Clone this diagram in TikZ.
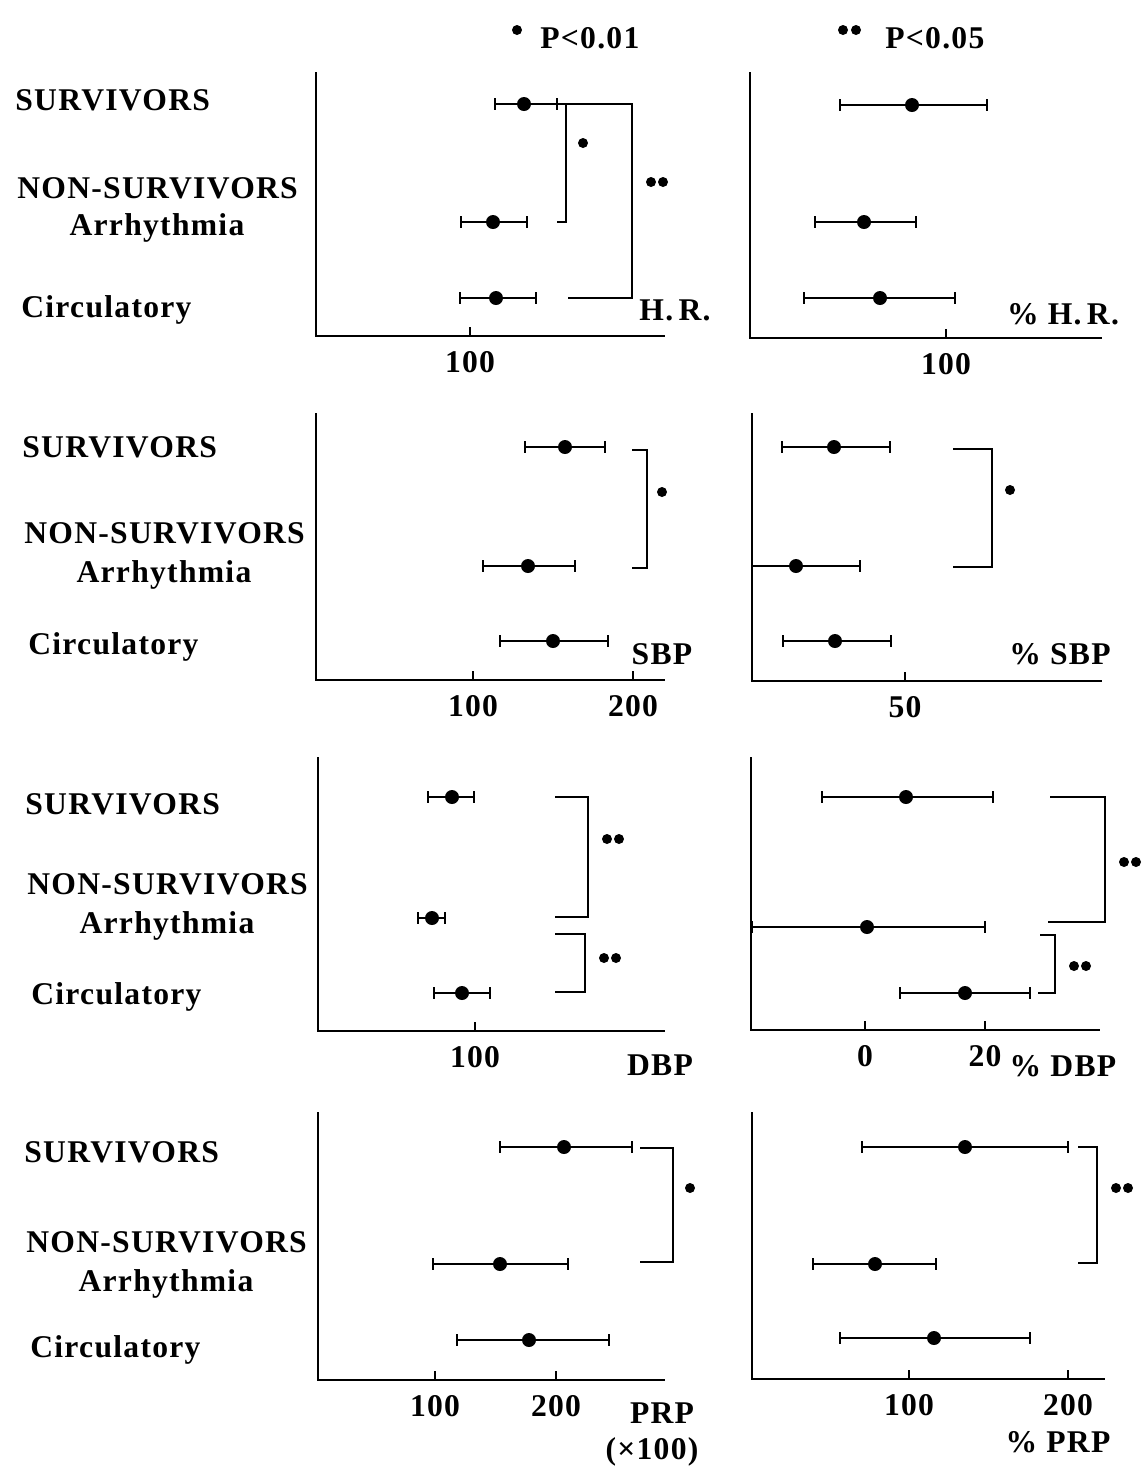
\documentclass[tikz,border=0pt]{standalone}
\usepackage{fontspec}
\setmainfont{Liberation Serif}[LetterSpace=4]
\begin{document}
\begin{tikzpicture}[x=0.02cm,y=-0.02cm,
  axis/.style={line width=1.4pt},
  bar/.style={line width=1.1pt},
  brk/.style={line width=1.3pt},
  txt/.style={font=\fontsize{18}{20}\selectfont\bfseries,inner sep=0pt}]
\useasboundingbox (0,0) rectangle (1142,1472);

% legend
\fill (517,30) circle[radius=0.1cm];
\node[txt,anchor=west] (p1) at (540,38) {P<0.01};
\fill (843,30) circle[radius=0.1cm];
\fill (856,30) circle[radius=0.1cm];
\node[txt,anchor=west] (p2) at (885,38) {P<0.05};

% row labels
\foreach \i/\dx/\ys/\yn/\ya/\yc in {1/15/100/188/228/310, 2/22/447/533/575/647,
    3/25/804/884/926/997, 4/24/1152/1242/1284/1350}{
  \node[txt,anchor=west] (sur\i) at (\dx,\ys) {SURVIVORS};
  \node[txt,anchor=west] (non\i) at (\dx+2,\yn) {NON-SURVIVORS};
  \node[txt] (arr\i) at (\dx+142,\ya) {Arrhythmia};
  \node[txt,anchor=west] (cir\i) at (\dx+6,\yc) {Circulatory};
}

% axes: left panels and right panels
\foreach \xa/\ya/\yb/\xe in {316/72/336/665, 750/72/338/1102,
    316/413/680/665, 752/413/681/1102,
    318/757/1031/665, 751/757/1030/1100,
    318/1112/1380/665, 752/1112/1379/1105}{
  \draw[axis] (\xa,\ya) -- (\xa,\yb) -- (\xe,\yb);
}

% ticks and numbers
\foreach \x/\y/\t in {470/336/100, 946/338/100, 473/680/100, 633/680/200,
    905/681/50, 475/1031/100, 865/1030/0, 985/1030/20,
    435/1380/100, 556/1380/200, 909/1379/100, 1068/1379/200}{
  \draw[bar] (\x,\y) -- (\x,\y-9);
  \node[txt] (n\x\y) at (\x,\y+26) {\t};
}

% error bars: y / low / mean / high
\foreach \y/\a/\m/\b in {104/495/524/557, 222/461/493/527, 298/460/496/536,
    105/840/912/987, 222/815/864/916, 298/804/880/955,
    447/525/565/605, 566/483/528/575, 641/500/553/608,
    447/782/834/890, 566/752/796/860, 641/783/835/891,
    797/428/452/474, 918/418/432/445, 993/434/462/490,
    797/822/906/993, 927/752/867/985, 993/900/965/1030,
    1147/500/564/632, 1264/433/500/568, 1340/457/529/609,
    1147/862/965/1068, 1264/813/875/936, 1338/840/934/1030}{
  \draw[bar] (\a,\y) -- (\b,\y);
  \draw[bar] (\a,\y-6) -- (\a,\y+6);
  \draw[bar] (\b,\y-6) -- (\b,\y+6);
  \fill (\m,\y) circle[radius=0.14cm];
}

% brackets: top x / top y / vertical x / bottom y / bottom x
\foreach \xt/\yt/\xv/\yb/\xb in {558/104/566/222/557, 566/104/632/298/568,
    632/450/647/568/632, 953/449/992/567/953,
    555/797/588/917/555, 555/934/585/992/555,
    1050/797/1105/922/1048, 1040/935/1055/993/1038,
    640/1148/673/1262/640, 1078/1147/1097/1263/1078}{
  \draw[brk] (\xt,\yt) -- (\xv,\yt) -- (\xv,\yb) -- (\xb,\yb);
}

% significance marks
\foreach \x/\y in {583/143, 662/492, 1010/490, 690/1188}{
  \fill (\x,\y) circle[radius=0.1cm];
}
\foreach \x/\y in {651/182, 607/839, 604/958, 1124/862, 1074/966, 1116/1188}{
  \fill (\x,\y) circle[radius=0.1cm];
  \fill (\x+12,\y) circle[radius=0.1cm];
}

% variable names
\node[txt] (hr) at (675,310) {H.\,R.};
\node[txt] (phr) at (1063,314) {\% H.\,R.};
\node[txt] (sbp) at (662,654) {SBP};
\node[txt] (psbp) at (1060,654) {\%\ SBP};
\node[txt] (dbp) at (660,1065) {DBP};
\node[txt] (pdbp) at (1063,1066) {\% DBP};
\node[txt] (prp) at (662,1413) {PRP};
\node[txt] (x100) at (652,1452) {(×100)};
\node[txt] (pprp) at (1058,1442) {\%\ PRP};
\end{tikzpicture}
\end{document}
